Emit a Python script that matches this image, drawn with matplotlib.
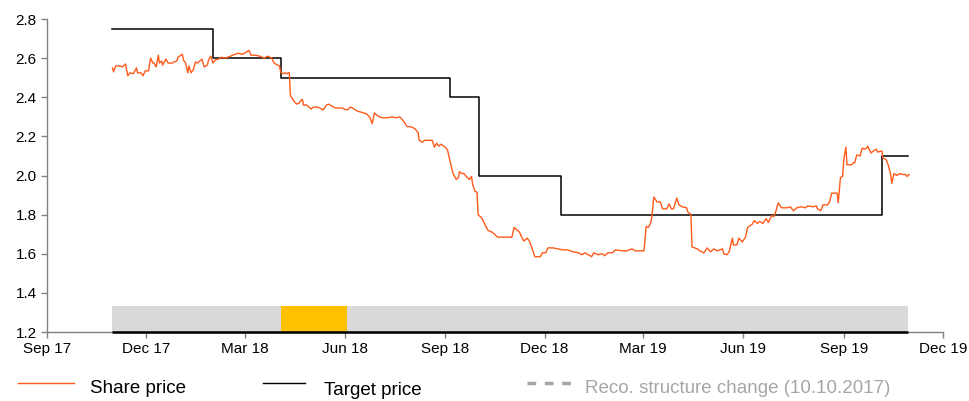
import matplotlib
matplotlib.use('Agg')
import matplotlib.pyplot as plt
import matplotlib.dates as mdates
from matplotlib.lines import Line2D
import pandas as pd

plt.rcParams['font.family'] = ['Liberation Sans', 'DejaVu Sans']

START = pd.Timestamp('2017-09-01')

# share price, days since 1 Sep 2017
price_days = [60, 61, 63, 67, 69, 72, 74, 76, 79, 82, 83, 86, 88, 90, 93, 95, 97, 98, 100, 102,
              103, 105, 106, 109, 111, 115, 116, 119, 120, 124, 125, 127, 129, 130, 132, 134, 136,
              138, 140, 142, 144, 147, 148, 150, 152, 154, 157, 160, 163, 166, 170, 175, 179, 181,
              185, 187, 191, 195, 199, 202, 204, 206, 208, 211, 213, 214, 216, 218, 220, 221, 222,
              223, 224, 227, 229, 231, 233, 234, 235, 238, 240, 242, 244, 247, 250, 253, 256, 258,
              261, 264, 267, 270, 275, 278, 280, 284, 287, 290, 293, 296, 298, 300, 303, 307, 312,
              316, 320, 323, 325, 327, 330, 333, 337, 340, 341, 344, 346, 351, 353, 355, 357, 359,
              361, 365, 367, 369, 372, 375, 377, 378, 380, 382, 385, 387, 389, 390, 392, 394, 395,
              398, 400, 402, 404, 408, 411, 413, 416, 420, 422, 426, 428, 431, 433, 435, 437, 440,
              442, 444, 447, 452, 454, 457, 459, 464, 468, 473, 477, 482, 487, 490, 493, 496, 499,
              501, 505, 509, 511, 514, 518, 521, 527, 531, 536, 539, 543, 547, 549, 551, 553, 554,
              556, 559, 562, 564, 568, 570, 572, 574, 577, 579, 582, 586, 587, 590, 591, 596, 598,
              602, 605, 608, 611, 614, 619, 620, 623, 625, 628, 629, 632, 634, 637, 640, 642, 646,
              648, 651, 653, 656, 659, 661, 664, 666, 668, 670, 673, 678, 681, 684, 687, 691, 695,
              697, 702, 705, 706, 709, 711, 715, 717, 719, 721, 724, 725, 727, 729, 730, 732, 733,
              737, 739, 740, 742, 745, 747, 749, 751, 752, 755, 757, 760, 761, 765, 766, 769, 771,
              773, 774, 776, 779, 781, 784, 787, 788, 790]
price = [2.55, 2.53, 2.56, 2.56, 2.555, 2.57, 2.51, 2.525, 2.52, 2.55, 2.525, 2.525, 2.51, 2.535,
         2.535, 2.60, 2.575, 2.575, 2.555, 2.615, 2.575, 2.585, 2.565, 2.595, 2.575, 2.575, 2.58,
         2.585, 2.605, 2.62, 2.59, 2.575, 2.525, 2.56, 2.525, 2.54, 2.58, 2.575, 2.585, 2.595,
         2.555, 2.565, 2.59, 2.61, 2.575, 2.59, 2.595, 2.605, 2.60, 2.605, 2.615, 2.625, 2.62,
         2.625, 2.64, 2.615, 2.615, 2.61, 2.60, 2.61, 2.605, 2.60, 2.575, 2.565, 2.56, 2.53, 2.52,
         2.525, 2.52, 2.525, 2.525, 2.41, 2.40, 2.375, 2.365, 2.37, 2.385, 2.39, 2.36, 2.36, 2.35,
         2.34, 2.35, 2.35, 2.345, 2.335, 2.36, 2.365, 2.355, 2.345, 2.345, 2.345, 2.335, 2.35,
         2.345, 2.33, 2.325, 2.32, 2.315, 2.295, 2.265, 2.32, 2.305, 2.295, 2.295, 2.30, 2.295,
         2.30, 2.29, 2.275, 2.25, 2.25, 2.24, 2.22, 2.18, 2.17, 2.18, 2.18, 2.18, 2.145, 2.165,
         2.15, 2.16, 2.145, 2.13, 2.08, 2.01, 1.98, 1.99, 2.02, 2.01, 2.01, 1.99, 1.98, 1.995,
         1.955, 1.92, 1.915, 1.80, 1.785, 1.765, 1.74, 1.72, 1.71, 1.695, 1.685, 1.685, 1.685,
         1.685, 1.685, 1.735, 1.72, 1.71, 1.685, 1.665, 1.68, 1.665, 1.635, 1.585, 1.585, 1.605,
         1.605, 1.63, 1.63, 1.625, 1.62, 1.62, 1.61, 1.605, 1.595, 1.605, 1.595, 1.585, 1.605,
         1.595, 1.60, 1.59, 1.605, 1.605, 1.62, 1.615, 1.615, 1.625, 1.615, 1.615, 1.615, 1.74,
         1.735, 1.755, 1.78, 1.89, 1.865, 1.865, 1.83, 1.83, 1.855, 1.83, 1.83, 1.885, 1.85, 1.84,
         1.835, 1.815, 1.80, 1.635, 1.625, 1.615, 1.605, 1.63, 1.61, 1.625, 1.615, 1.625, 1.60,
         1.595, 1.61, 1.68, 1.645, 1.645, 1.68, 1.66, 1.685, 1.735, 1.75, 1.77, 1.755, 1.765,
         1.755, 1.78, 1.76, 1.795, 1.79, 1.82, 1.86, 1.835, 1.835, 1.84, 1.82, 1.835, 1.84, 1.835,
         1.845, 1.84, 1.845, 1.83, 1.82, 1.85, 1.85, 1.865, 1.91, 1.91, 1.91, 1.86, 1.99, 1.995,
         2.08, 2.145, 2.055, 2.055, 2.065, 2.065, 2.105, 2.10, 2.14, 2.135, 2.14, 2.15, 2.115,
         2.125, 2.135, 2.12, 2.125, 2.09, 2.08, 2.05, 2.005, 1.96, 2.01, 2.00, 2.01, 2.005, 2.005,
         1.995, 2.005]

# target price steps (start day, value), last entry is end of coverage
target_days = [60, 152, 214, 369, 396, 471, 765, 789]
target = [2.75, 2.60, 2.50, 2.40, 2.00, 1.80, 2.10, 2.10]

# recommendation band
reco_start, reco_end = 60, 789
buy_start, buy_end = 214, 275
band_top = 1.335

price_dates = [START + pd.Timedelta(days=d) for d in price_days]
target_dates = [START + pd.Timedelta(days=d) for d in target_days]


def day(d):
    return START + pd.Timedelta(days=d)


fig = plt.figure(figsize=(9.69, 4.01), dpi=100)
ax = fig.add_axes([0.0485, 0.172, 0.9247, 0.7806])

ax.axvspan(day(reco_start), day(reco_end), ymin=0, ymax=(band_top - 1.2) / 1.6,
           color='#D9D9D9', lw=0, zorder=1)
ax.axvspan(day(buy_start), day(buy_end), ymin=0, ymax=(band_top - 1.2) / 1.6,
           color='#FFC000', lw=0, zorder=2)
ax.hlines(1.2, day(reco_start), day(reco_end), color='black', lw=1.8, zorder=5, clip_on=False)

ax.step(target_dates, target, where='post', color='black', lw=1.1, zorder=3)
ax.plot(price_dates, price, color='#FF5A1A', lw=1.0, zorder=4)

ax.set_xlim(pd.Timestamp('2017-09-01'), pd.Timestamp('2019-12-01'))
ax.set_ylim(1.2, 2.8)
ax.set_yticks([1.2, 1.4, 1.6, 1.8, 2.0, 2.2, 2.4, 2.6, 2.8])
ax.yaxis.set_major_formatter(plt.FormatStrFormatter('%.1f'))
ax.xaxis.set_major_locator(mdates.MonthLocator(bymonth=[3, 6, 9, 12]))
ax.xaxis.set_major_formatter(mdates.DateFormatter('%b %y'))

for s in ['top', 'right']:
    ax.spines[s].set_visible(False)
for s in ['left', 'bottom']:
    ax.spines[s].set_color('#808080')
    ax.spines[s].set_linewidth(1.0)
ax.tick_params(axis='both', colors='#808080', labelcolor='black', labelsize=11,
               length=4, width=1.0, direction='out')

# legend drawn manually at the bottom
fig.add_artist(Line2D([0.019, 0.076], [0.045, 0.045], color='#FF5A1A', lw=1.0))
fig.text(0.093, 0.03, 'Share price', fontsize=13.5, va='center')
fig.add_artist(Line2D([0.271, 0.315], [0.045, 0.045], color='black', lw=1.0))
fig.text(0.334, 0.025, 'Target price', fontsize=13.5, va='center')
fig.add_artist(Line2D([0.544, 0.597], [0.045, 0.045], color='#A6A6A6', lw=2.5,
                      linestyle=(0, (2.5, 2.5))))
fig.text(0.604, 0.03, 'Reco. structure change (10.10.2017)', fontsize=13.5,
         va='center', color='#A6A6A6')

fig.savefig('out.png', dpi=100)
